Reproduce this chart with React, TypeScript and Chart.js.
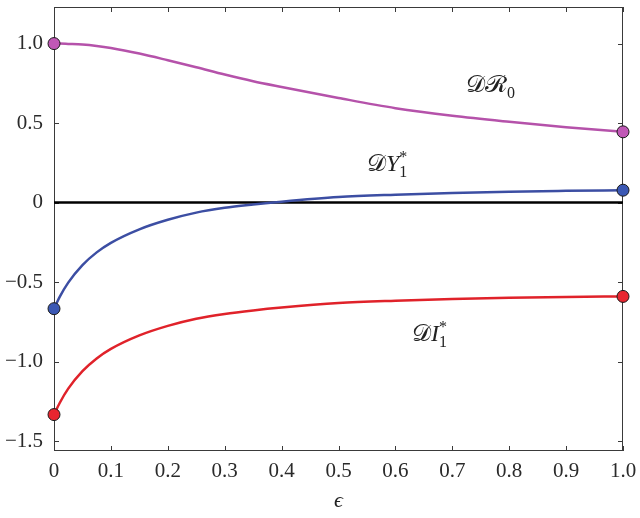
import React, { useEffect, useRef } from "react";
import { Chart, registerables } from "chart.js";

Chart.register(...registerables);

// ε values at which curves were read
const eps = [0, 0.01, 0.025, 0.05, 0.075, 0.1, 0.15, 0.2, 0.25, 0.3, 0.35, 0.4, 0.5, 0.6, 0.7, 0.8, 0.9, 1.0];
const dR0 = [1.0, 1.0, 0.998, 0.994, 0.985, 0.972, 0.937, 0.895, 0.851, 0.805, 0.763, 0.727, 0.658, 0.594, 0.546, 0.508, 0.474, 0.445];
const dY1 = [-0.667, -0.593, -0.503, -0.393, -0.313, -0.253, -0.168, -0.108, -0.063, -0.033, -0.012, 0.006, 0.035, 0.05, 0.061, 0.069, 0.074, 0.078];
const dI1 = [-1.333, -1.26, -1.17, -1.06, -0.98, -0.92, -0.835, -0.775, -0.73, -0.7, -0.678, -0.66, -0.632, -0.617, -0.606, -0.598, -0.593, -0.59];
const zeroLine = [0, 0];
const zeroEps = [0, 1];

const xTicks = [0, 0.1, 0.2, 0.3, 0.4, 0.5, 0.6, 0.7, 0.8, 0.9, 1.0];
const xTickLabels = ["0", "0.1", "0.2", "0.3", "0.4", "0.5", "0.6", "0.7", "0.8", "0.9", "1.0"];
const yTicks = [-1.5, -1.0, -0.5, 0, 0.5, 1.0];
const yTickLabels = ["\u22121.5", "\u22121.0", "\u22120.5", "0", "0.5", "1.0"];

// curve annotations: script part, italic part, superscript, subscript, anchor (ε, value)
const annScript = ["\u{1D49F}\u211B", "\u{1D49F}", "\u{1D49F}"];
const annItalic = ["", "Y", "I"];
const annSup = ["", "*", "*"];
const annSub = ["0", "1", "1"];
const annEps = [0.724, 0.55, 0.629];
const annVal = [0.697, 0.2, -0.872];

const SERIF = "'Liberation Serif', 'DejaVu Serif', serif";

const pts = (xs: number[], ys: number[]) => xs.map((x, i) => ({ x, y: ys[i] }));

const framePlugin = {
  id: "frame",
  beforeDatasetsDraw(chart: any) {
    const { ctx, chartArea: a, scales } = chart;
    const xs = scales.x;
    const ys = scales.y;
    ctx.save();
    ctx.strokeStyle = "#3a3a3a";
    ctx.lineWidth = 1;
    ctx.strokeRect(a.left + 0.5, a.top + 0.5, a.right - a.left - 1, a.bottom - a.top - 1);
    const tl = 5;
    ctx.beginPath();
    xTicks.forEach((v) => {
      const px = Math.round(xs.getPixelForValue(v)) + 0.5;
      ctx.moveTo(px, a.bottom);
      ctx.lineTo(px, a.bottom - tl);
      ctx.moveTo(px, a.top);
      ctx.lineTo(px, a.top + tl);
    });
    yTicks.forEach((v) => {
      const py = Math.round(ys.getPixelForValue(v)) + 0.5;
      ctx.moveTo(a.left, py);
      ctx.lineTo(a.left + tl, py);
      ctx.moveTo(a.right, py);
      ctx.lineTo(a.right - tl, py);
    });
    ctx.stroke();
    ctx.restore();
  },
  afterDraw(chart: any) {
    const { ctx, chartArea: a, scales } = chart;
    const xs = scales.x;
    const ys = scales.y;
    ctx.save();
    ctx.fillStyle = "#222";
    ctx.textBaseline = "alphabetic";
    ctx.textAlign = "left";
    annScript.forEach((s, i) => {
      let x = xs.getPixelForValue(annEps[i]);
      const y = ys.getPixelForValue(annVal[i]);
      ctx.font = `24px ${SERIF}`;
      ctx.fillText(s, x, y);
      x += ctx.measureText(s).width;
      if (annItalic[i]) {
        ctx.font = `italic 24px ${SERIF}`;
        ctx.fillText(annItalic[i], x, y);
        x += ctx.measureText(annItalic[i]).width;
      }
      ctx.font = `16px ${SERIF}`;
      if (annSup[i]) {
        ctx.fillText(annSup[i], x, y - 9);
      }
      ctx.fillText(annSub[i], x, y + 6);
    });
    ctx.font = `italic 22px ${SERIF}`;
    ctx.textAlign = "center";
    ctx.fillText("\u03F5", (a.left + a.right) / 2, a.bottom + 56);
    ctx.restore();
  },
};

export default function App() {
  const ref = useRef<HTMLCanvasElement | null>(null);
  useEffect(() => {
    if (!ref.current) return;
    const endRadius = (c: any) => (c.dataIndex === 0 || c.dataIndex === eps.length - 1 ? 6 : 0);
    const chart = new Chart(ref.current, {
      type: "line",
      data: {
        datasets: [
          {
            data: pts(eps, dR0),
            borderColor: "#b552aa",
            backgroundColor: "#c058b6",
            borderWidth: 2.5,
            pointRadius: endRadius,
            pointBorderColor: "#1a1a1a",
            pointBorderWidth: 1,
            cubicInterpolationMode: "monotone",
            clip: false,
          } as any,
          {
            data: pts(eps, dY1),
            borderColor: "#3c4ea3",
            backgroundColor: "#3b58b4",
            borderWidth: 2.5,
            pointRadius: endRadius,
            pointBorderColor: "#1a1a1a",
            pointBorderWidth: 1,
            cubicInterpolationMode: "monotone",
            clip: false,
          },
          {
            data: pts(eps, dI1),
            borderColor: "#e0222a",
            backgroundColor: "#e82630",
            borderWidth: 2.5,
            pointRadius: endRadius,
            pointBorderColor: "#1a1a1a",
            pointBorderWidth: 1,
            cubicInterpolationMode: "monotone",
            clip: false,
          },
          {
            data: pts(zeroEps, zeroLine),
            borderColor: "#000",
            borderWidth: 2.5,
            pointRadius: 0,
          },
        ],
      },
      options: {
        animation: false,
        responsive: false,
        maintainAspectRatio: false,
        layout: { padding: { left: 0, right: 17, top: 3, bottom: 0 } },
        plugins: { legend: { display: false }, tooltip: { enabled: false } },
        scales: {
          x: {
            type: "linear",
            min: 0,
            max: 1,
            grid: { display: false, drawTicks: false },
            border: { display: false },
            afterBuildTicks: (ax: any) => {
              ax.ticks = xTicks.map((v) => ({ value: v }));
            },
            afterFit: (ax: any) => {
              ax.height = 67;
              ax.paddingLeft = 0;
              ax.paddingRight = 0;
            },
            ticks: {
              autoSkip: false,
              maxRotation: 0,
              padding: 8,
              color: "#2a2a2a",
              font: { family: SERIF, size: 21 },
              callback: (v: any) => {
                const i = xTicks.findIndex((t) => Math.abs(t - v) < 1e-9);
                return i >= 0 ? xTickLabels[i] : "";
              },
            },
          },
          y: {
            type: "linear",
            min: -1.562,
            max: 1.23,
            grid: { display: false, drawTicks: false },
            border: { display: false },
            afterBuildTicks: (ax: any) => {
              ax.ticks = yTicks.map((v) => ({ value: v }));
            },
            afterFit: (ax: any) => {
              ax.width = 54;
              ax.paddingTop = 0;
              ax.paddingBottom = 0;
            },
            ticks: {
              autoSkip: false,
              padding: 11,
              color: "#2a2a2a",
              font: { family: SERIF, size: 21 },
              callback: (v: any) => {
                const i = yTicks.findIndex((t) => Math.abs(t - v) < 1e-9);
                return i >= 0 ? yTickLabels[i] : "";
              },
            },
          },
        },
      },
      plugins: [framePlugin],
    });
    return () => chart.destroy();
  }, []);
  return (
    <div style={{ position: "fixed", left: 0, top: 0, width: 640, height: 518, background: "#fff" }}>
      <canvas ref={ref} width={640} height={518} style={{ display: "block" }} />
    </div>
  );
}
